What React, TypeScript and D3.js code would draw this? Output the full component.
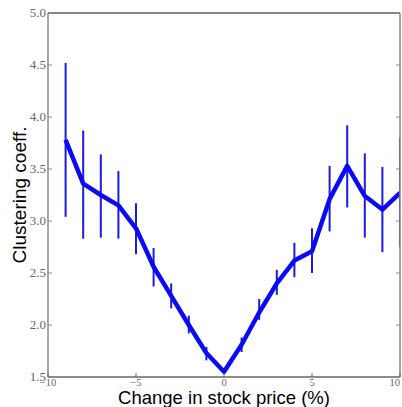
import React, { useRef, useEffect } from 'react';
import * as d3 from 'd3';

const priceChange = [-9, -8, -7, -6, -5, -4, -3, -2, -1, 0, 1, 2, 3, 4, 5, 6, 7, 8, 9, 10];
const clustering = [3.78, 3.36, 3.25, 3.15, 2.93, 2.56, 2.28, 2.0, 1.73, 1.55, 1.81, 2.12, 2.4, 2.62, 2.71, 3.21, 3.53, 3.24, 3.11, 3.27];
const errLow = [3.04, 2.83, 2.84, 2.83, 2.68, 2.37, 2.16, 1.92, 1.66, 1.55, 1.74, 2.05, 2.29, 2.46, 2.5, 2.9, 3.13, 2.84, 2.7, 2.75];
const errHigh = [4.52, 3.87, 3.64, 3.48, 3.17, 2.74, 2.4, 2.09, 1.79, 1.55, 1.88, 2.25, 2.53, 2.79, 2.93, 3.53, 3.92, 3.65, 3.52, 3.8];
const yTicks = [1.5, 2.0, 2.5, 3.0, 3.5, 4.0, 4.5, 5.0];
const xTicks = [-10, -5, 0, 5, 10];

const App = () => {
  const svgRef = useRef<SVGSVGElement>(null);
  const width = 402;
  const height = 407;

  useEffect(() => {
    const svg = d3.select(svgRef.current);
    svg.selectAll('*').remove();

    const margin = { top: 13, right: 2, bottom: 30, left: 48 };
    const x = d3.scaleLinear().domain([-10, 10]).range([margin.left, width - margin.right]);
    const y = d3.scaleLinear().domain([1.5, 5.0]).range([height - margin.bottom, margin.top]);

    svg.append('defs').append('clipPath').attr('id', 'plot')
      .append('rect')
      .attr('x', margin.left).attr('y', margin.top)
      .attr('width', x(10) - x(-10)).attr('height', y(1.5) - y(5));

    const plot = svg.append('g').attr('clip-path', 'url(#plot)');

    // error bars
    plot.selectAll('.err')
      .data(priceChange)
      .enter().append('line')
      .attr('x1', d => x(d)).attr('x2', d => x(d))
      .attr('y1', (d, i) => y(errLow[i]))
      .attr('y2', (d, i) => y(errHigh[i]))
      .attr('stroke', '#1a1ae6')
      .attr('stroke-width', 2);

    const line = d3.line<number>()
      .x(d => x(d))
      .y((d, i) => y(clustering[i]));

    plot.append('path')
      .datum(priceChange)
      .attr('d', line)
      .attr('fill', 'none')
      .attr('stroke', '#0a0af5')
      .attr('stroke-width', 4.5)
      .attr('stroke-linejoin', 'round');

    // spines
    const x0 = x(-10), x1 = x(10), y0 = y(1.5), y1 = y(5);
    svg.append('line').attr('x1', x0).attr('x2', x1).attr('y1', y1).attr('y2', y1).attr('stroke', '#111').attr('stroke-width', 1.2);
    svg.append('line').attr('x1', x0).attr('x2', x1).attr('y1', y0).attr('y2', y0).attr('stroke', '#666').attr('stroke-width', 1.5);
    svg.append('line').attr('x1', x0).attr('x2', x0).attr('y1', y1).attr('y2', y0).attr('stroke', '#888').attr('stroke-width', 1.5);
    svg.append('line').attr('x1', x1).attr('x2', x1).attr('y1', y1).attr('y2', y0).attr('stroke', '#888').attr('stroke-width', 1.5);

    // y ticks
    const yg = svg.append('g');
    yTicks.forEach(t => {
      yg.append('line').attr('x1', x0).attr('x2', x0 + 4).attr('y1', y(t)).attr('y2', y(t)).attr('stroke', '#888');
      yg.append('line').attr('x1', x1).attr('x2', x1 - 4).attr('y1', y(t)).attr('y2', y(t)).attr('stroke', '#888');
      yg.append('text')
        .attr('x', x0 - 2).attr('y', y(t) + 4)
        .attr('text-anchor', 'end')
        .attr('font-family', 'Liberation Serif, serif')
        .attr('font-size', 13)
        .attr('fill', '#666')
        .text(t.toFixed(1));
    });

    // x ticks
    const xg = svg.append('g');
    xTicks.forEach(t => {
      xg.append('line').attr('x1', x(t)).attr('x2', x(t)).attr('y1', y0).attr('y2', y0 - 4).attr('stroke', '#666');
      xg.append('text')
        .attr('x', x(t)).attr('y', y0 + 9)
        .attr('text-anchor', t === 10 ? 'end' : 'middle')
        .attr('font-family', 'Liberation Serif, serif')
        .attr('font-size', 10.5)
        .attr('fill', '#666')
        .text(t < 0 ? '\u2212' + Math.abs(t) : String(t));
    });

    svg.append('text')
      .attr('x', (x0 + x1) / 2).attr('y', height - 3)
      .attr('text-anchor', 'middle')
      .attr('font-family', 'Liberation Sans, Arial, sans-serif')
      .attr('font-size', 18.5)
      .attr('fill', '#000')
      .text('Change in stock price (%)');

    svg.append('text')
      .attr('transform', `translate(26,${(y0 + y1) / 2}) rotate(-90)`)
      .attr('text-anchor', 'middle')
      .attr('font-family', 'Liberation Sans, Arial, sans-serif')
      .attr('font-size', 19)
      .attr('fill', '#000')
      .text('Clustering coeff.');
  }, []);

  return (
    <svg ref={svgRef} width={width} height={height} style={{ position: 'absolute', left: 0, top: 0, background: '#fff' }} />
  );
};

export default App;
